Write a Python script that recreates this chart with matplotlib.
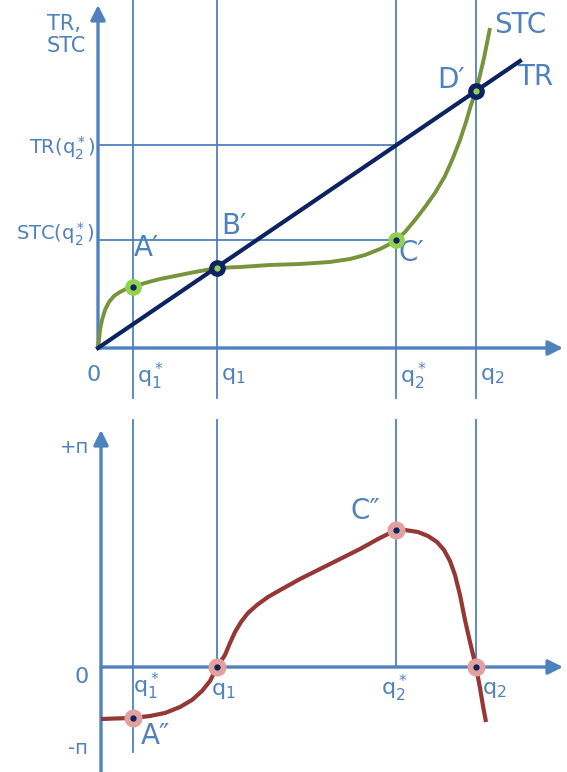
import matplotlib.pyplot as plt

plt.rcParams['font.family'] = ['DejaVu Sans']
plt.rcParams['mathtext.default'] = 'regular'

# output quantities on the q axis
q_star1 = 3.5
q1 = 11.9
q_star2 = 29.8
q2 = 37.8

# total revenue: straight line from the origin
tr_slope = 0.68
tr_q = [0, 42.2]

# short-run total cost
stc_q = [0, 0.1, 0.2, 0.4, 0.7, 1.1, 1.6, 2.2, 2.8, 3.5, 4.7, 6.2, 7.7, 9.7, 11.9,
         14.2, 17.2, 20.2, 23.2, 25.2, 26.7, 28.2, 29.2, 29.8, 30.7, 31.7, 32.7,
         33.7, 34.7, 35.5, 36.2, 36.8, 37.3, 37.8, 38.2, 38.6, 38.9, 39.2]
stc_v = [0, 0.8, 1.8, 2.8, 3.8, 4.6, 5.2, 5.6, 5.9, 6.1, 6.5, 6.9, 7.2, 7.6, 8.0,
         8.1, 8.3, 8.4, 8.6, 8.9, 9.3, 9.9, 10.4, 10.8, 11.6, 12.8, 14.1,
         15.5, 17.2, 19.0, 20.8, 22.6, 24.3, 25.7, 27.3, 29.0, 30.5, 32.0]

# profit
pi_q = [0.3, 1.7, 3.5, 5.2, 6.7, 8.2, 9.4, 10.4, 11.2, 11.9, 12.7, 13.2, 13.7, 14.3,
        15.0, 15.9, 17.0, 18.4, 20.2, 22.2, 24.2, 26.2, 28.0, 29.2, 29.8, 30.7,
        32.0, 33.0, 33.9, 34.6, 35.2, 35.7, 36.2, 36.7, 37.2, 37.8, 38.2, 38.5, 38.8]
pi_v = [-5.2, -5.15, -5.1, -4.9, -4.6, -4.0, -3.3, -2.4, -1.4, 0.0, 1.2, 2.4, 3.5, 4.5,
        5.4, 6.2, 7.0, 7.8, 8.8, 9.8, 10.8, 11.8, 12.8, 13.4, 13.7, 13.7,
        13.5, 13.1, 12.5, 11.7, 10.6, 9.2, 7.2, 4.7, 2.5, 0.0, -2.1, -3.9, -5.5]

# marked points
top_pts_q = [q_star1, q1, q_star2, q2]
top_pts_v = [6.1, 8.0, 10.8, 25.7]
bot_pts_q = [q_star1, q1, q_star2, q2]
bot_pts_v = [-5.1, 0.0, 13.7, 0.0]

BLUE = '#4F81BD'
NAVY = '#0B2360'
OLIVE = '#77933C'
LGREEN = '#92D050'
RED = '#953735'
PINK = '#E2A09E'

W, H = 567, 772
fig = plt.figure(figsize=(W / 100, H / 100), dpi=100)
top_h = 405
ax1 = fig.add_axes([0, 1 - top_h / H, 1, top_h / H])
ax2 = fig.add_axes([0, 0, 1, 1 - top_h / H])
for ax in (ax1, ax2):
    ax.set_xlim(-9.8, 46.9)
    ax.axis('off')
ax1.set_ylim(-5.7, 34.8)
ax2.set_ylim(-10.5, 26.2)

arrow = dict(arrowstyle='-|>', mutation_scale=22, lw=2.4, color=BLUE,
             shrinkA=0, shrinkB=0)
curve_kw = dict(solid_joinstyle='round', solid_capstyle='butt')

# ---------- top panel: TR and STC ----------
for q in top_pts_q:
    ax1.plot([q, q], [-5.0, 34.8], color=BLUE, lw=1.3, zorder=1)
tr_q2 = tr_slope * q_star2
ax1.plot([0, q_star2], [tr_q2, tr_q2], color=BLUE, lw=1.3, zorder=1)
ax1.plot([0, q_star2], [top_pts_v[2], top_pts_v[2]], color=BLUE, lw=1.3, zorder=1)

ax1.annotate('', xy=(0, 34.3), xytext=(0, 0), arrowprops=arrow, zorder=2)
ax1.annotate('', xy=(46.5, 0), xytext=(0, 0), arrowprops=arrow, zorder=2)

ax1.plot(stc_q, stc_v, color=OLIVE, lw=2.8, zorder=3, **curve_kw)
ax1.plot(tr_q, [tr_slope * q for q in tr_q], color=NAVY, lw=3.0, zorder=4)

# A', C' on STC only; B', D' where TR = STC
ax1.plot([top_pts_q[0], top_pts_q[2]], [top_pts_v[0], top_pts_v[2]], 'o', ms=11,
         color=LGREEN, zorder=5)
ax1.plot([top_pts_q[0], top_pts_q[2]], [top_pts_v[0], top_pts_v[2]], 'o', ms=3.5,
         color=NAVY, zorder=6)
ax1.plot([top_pts_q[1], top_pts_q[3]], [top_pts_v[1], top_pts_v[3]], 'o', ms=11,
         color=NAVY, zorder=5)
ax1.plot([top_pts_q[1], top_pts_q[3]], [top_pts_v[1], top_pts_v[3]], 'o', ms=3.5,
         color=LGREEN, zorder=6)

ax1.text(-5.1, 31.3, 'TR,\nSTC', color=BLUE, fontsize=15, ha='left', va='center',
         linespacing=1.1)
ax1.text(-0.3, tr_q2 - 0.3, r'TR(q$^*_2$)', color=BLUE, fontsize=14, ha='right', va='center')
ax1.text(-0.3, top_pts_v[2] + 0.6, r'STC(q$^*_2$)', color=BLUE, fontsize=14,
         ha='right', va='center')
ax1.text(-0.4, -2.7, '0', color=BLUE, fontsize=16, ha='center', va='center')
for q, lab in zip(top_pts_q, [r'q$^*_1$', r'q$_1$', r'q$^*_2$', r'q$_2$']):
    ax1.text(q + 0.4, -2.8, lab, color=BLUE, fontsize=16, ha='left', va='center')

ax1.text(3.6, 10.0, 'A′', color=BLUE, fontsize=20, ha='left', va='center')
ax1.text(12.3, 12.2, 'B′', color=BLUE, fontsize=20, ha='left', va='center')
ax1.text(30.1, 9.5, 'C′', color=BLUE, fontsize=20, ha='left', va='center')
ax1.text(33.9, 26.8, 'D′', color=BLUE, fontsize=20, ha='left', va='center')
ax1.text(39.6, 32.3, 'STC', color=BLUE, fontsize=20, ha='left', va='center')
ax1.text(41.9, 27.1, 'TR', color=BLUE, fontsize=20, ha='left', va='center')

# ---------- bottom panel: profit ----------
ax2.plot([q_star1, q_star1], [-8.5, 24.7], color=BLUE, lw=1.3, zorder=1)
for q in bot_pts_q[1:]:
    ax2.plot([q, q], [0, 24.7], color=BLUE, lw=1.3, zorder=1)

ax2.annotate('', xy=(0.3, 23.7), xytext=(0.3, -10.5), arrowprops=arrow, zorder=2)
ax2.annotate('', xy=(46.5, 0), xytext=(0.3, 0), arrowprops=arrow, zorder=2)

ax2.plot(pi_q, pi_v, color=RED, lw=3.0, zorder=3, **curve_kw)
ax2.plot(bot_pts_q, bot_pts_v, 'o', ms=12, color=PINK, zorder=5)
ax2.plot(bot_pts_q, bot_pts_v, 'o', ms=3.5, color=NAVY, zorder=6)

ax2.text(-2.3, 22.0, '+п', color=BLUE, fontsize=14, ha='center', va='center')
ax2.text(-1.6, -1.0, '0', color=BLUE, fontsize=16, ha='center', va='center')
ax2.text(-2.0, -8.1, '-п', color=BLUE, fontsize=14, ha='center', va='center')
ax2.text(3.5, -1.9, r'q$^*_1$', color=BLUE, fontsize=16, ha='left', va='center')
ax2.text(11.3, -2.4, r'q$_1$', color=BLUE, fontsize=16, ha='left', va='center')
ax2.text(28.3, -2.1, r'q$^*_2$', color=BLUE, fontsize=16, ha='left', va='center')
ax2.text(38.4, -2.3, r'q$_2$', color=BLUE, fontsize=16, ha='left', va='center')
ax2.text(25.2, 15.6, 'C″', color=BLUE, fontsize=20, ha='left', va='center')
ax2.text(4.3, -6.9, 'A″', color=BLUE, fontsize=20, ha='left', va='center')

fig.savefig('out.png', dpi=100)
